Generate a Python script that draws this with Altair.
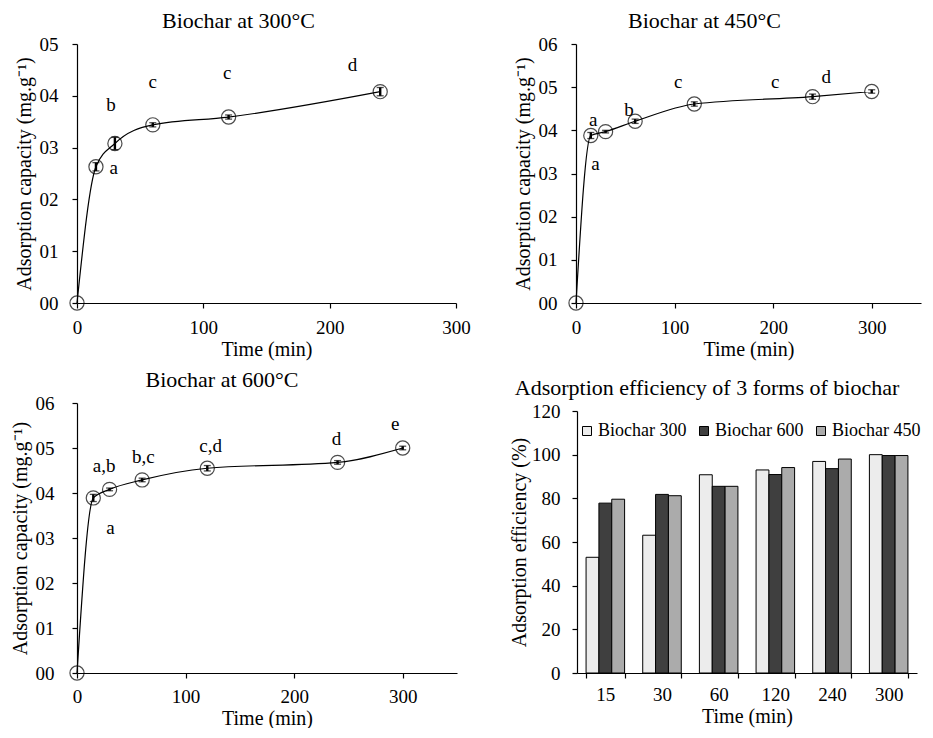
import altair as alt
import pandas as pd

FONT = "Liberation Serif"

# ---------------- data ----------------
# Biochar at 300 °C
t300 = [0, 15, 30, 60, 120, 240]
q300 = [0.0, 0.263, 0.308, 0.344, 0.359, 0.408]
e300 = [0.0, 0.008, 0.012, 0.004, 0.004, 0.008]
lab300_text = ["a", "b", "c", "c", "d"]
lab300_x = [29, 27, 60, 119, 218]
lab300_y = [0.26, 0.383, 0.427, 0.444, 0.46]

# Biochar at 450 °C
t450 = [0, 15, 30, 60, 120, 240, 300]
q450 = [0.0, 0.388, 0.397, 0.421, 0.461, 0.478, 0.490]
e450 = [0.0, 0.007, 0.003, 0.005, 0.005, 0.006, 0.004]
lab450_text = ["a", "a", "b", "c", "c", "d"]
lab450_x = [17.4, 19.8, 53.7, 103.7, 202, 254]
lab450_y = [0.424, 0.321, 0.448, 0.511, 0.511, 0.523]

# Biochar at 600 °C
t600 = [0, 15, 30, 60, 120, 240, 300]
q600 = [0.0, 0.389, 0.408, 0.429, 0.455, 0.468, 0.500]
e600 = [0.0, 0.008, 0.003, 0.004, 0.006, 0.004, 0.004]
lab600_text = ["a,b", "a", "b,c", "c,d", "d", "e"]
lab600_x = [25, 30.8, 61, 123, 239, 293]
lab600_y = [0.461, 0.322, 0.479, 0.505, 0.521, 0.553]

# Adsorption efficiency (%)
bar_times = ["15", "30", "60", "120", "240", "300"]
series_order = ["Biochar 300", "Biochar 600", "Biochar 450"]
eff300 = [53.0, 63.1, 90.8, 93.0, 96.9, 100.0]
eff600 = [77.8, 81.8, 85.5, 90.9, 93.6, 99.6]
eff450 = [79.6, 81.2, 85.5, 94.1, 98.0, 99.6]
bar_fill = ["#ececec", "#3f3f3f", "#ababab"]

AX = dict(labelFont=FONT, titleFont=FONT, labelFontSize=19, titleFontSize=20,
          titleFontWeight="normal", labelColor="black", titleColor="black",
          labelFlush=False)


def title(text, dx=0, offset=2):
    return alt.TitleParams(text, font=FONT, fontSize=22, fontWeight="normal",
                           color="black", offset=offset, dx=dx)


def kinetics(t, q, e, lx, ly, lt, ttl, dx, toff, xmax, ymax, w, h,
             ylabpad=14, xlabpad=10):
    df = pd.DataFrame({"t": t, "q": q,
                       "lo": [a - b for a, b in zip(q, e)],
                       "hi": [a + b for a, b in zip(q, e)]})
    ldf = pd.DataFrame({"t": lx, "q": ly, "txt": lt})
    xsc = alt.Scale(domain=[0, xmax], nice=False, zero=True)
    ysc = alt.Scale(domain=[0, ymax], nice=False, zero=True)
    yvals = [round(i * 0.1, 1) for i in range(int(round(ymax * 10)) + 1)]
    xax = alt.Axis(values=[0, 100, 200, 300], title="Time (min)",
                   labelPadding=xlabpad, titlePadding=2, **AX)
    yax = alt.Axis(values=yvals, title="Adsorption capacity (mg.g\u207b\u00b9)",
                   labelExpr="replace(format(datum.value, '.1f'), '.', '')",
                   labelPadding=ylabpad, titlePadding=5, **AX)
    base = alt.Chart(df)
    line = base.mark_line(interpolate="monotone", color="black", strokeWidth=1.2).encode(
        x=alt.X("t:Q", scale=xsc, axis=xax),
        y=alt.Y("q:Q", scale=ysc, axis=yax),
    )
    eb = base.transform_filter("datum.t > 0")
    rule = eb.mark_rule(color="black", strokeWidth=2.4).encode(
        x="t:Q", y="lo:Q", y2="hi:Q")
    cap_lo = eb.mark_tick(orient="horizontal", size=7, thickness=1.3, color="black").encode(
        x="t:Q", y="lo:Q")
    cap_hi = eb.mark_tick(orient="horizontal", size=7, thickness=1.3, color="black").encode(
        x="t:Q", y="hi:Q")
    pts = base.mark_point(shape="circle", size=200, filled=False, color="black",
                          strokeWidth=1.2).encode(x="t:Q", y="q:Q")
    txt = alt.Chart(ldf).mark_text(font=FONT, fontSize=19, color="black",
                                   align="center", baseline="middle").encode(
        x="t:Q", y="q:Q", text="txt:N")
    return alt.layer(line, rule, cap_lo, cap_hi, pts, txt).properties(
        width=w, height=h, title=title(ttl, dx=dx, offset=toff))


TOP_H = 259
tl = kinetics(t300, q300, e300, lab300_x, lab300_y, lab300_text,
              "Biochar at 300\u00b0C", -28, 2, 300, 0.5, 379, TOP_H)
tr = kinetics(t450, q450, e450, lab450_x, lab450_y, lab450_text,
              "Biochar at 450\u00b0C", -44, 2, 350, 0.6, 345, TOP_H)
BL_H = 270
bl = kinetics(t600, q600, e600, lab600_x, lab600_y, lab600_text,
              "Biochar at 600\u00b0C", -45, 2, 350, 0.6, 380, BL_H,
              ylabpad=18, xlabpad=9)

bdf = pd.DataFrame({
    "time": bar_times * 3,
    "series": [s for s in series_order for _ in bar_times],
    "eff": eff300 + eff600 + eff450,
})

br = alt.Chart(bdf).mark_bar(stroke="black", strokeWidth=1).encode(
    x=alt.X("time:N", sort=bar_times,
            scale=alt.Scale(paddingInner=0.32, paddingOuter=0.16),
            axis=alt.Axis(title="Time (min)", labelAngle=0, tickBand="extent",
                          labelPadding=7, titlePadding=2, **AX)),
    xOffset=alt.XOffset("series:N", sort=series_order,
                        scale=alt.Scale(paddingInner=0, paddingOuter=0)),
    y=alt.Y("eff:Q", scale=alt.Scale(domain=[0, 120], nice=False, range=[BL_H, 8]),
            axis=alt.Axis(values=list(range(0, 121, 20)),
                          title="Adsorption efficiency (%)",
                          labelPadding=12, titlePadding=2, **AX)),
    color=alt.Color("series:N", sort=series_order,
                    scale=alt.Scale(domain=series_order, range=bar_fill),
                    legend=alt.Legend(orient="none", legendX=1, legendY=19,
                                      direction="horizontal", columns=3, title=None,
                                      symbolType="square", symbolSize=81,
                                      symbolStrokeColor="black", symbolStrokeWidth=1,
                                      labelFont=FONT, labelFontSize=18,
                                      labelColor="black", labelOffset=2,
                                      columnPadding=8)),
).properties(width=340, height=BL_H,
             title=title("Adsorption efficiency of 3 forms of biochar", dx=-40))

chart = alt.vconcat(
    alt.hconcat(tl, tr, spacing=41),
    alt.hconcat(bl, br, spacing=52).resolve_legend(color="independent"),
    spacing=10,
).resolve_legend(color="independent").properties(
    padding={"left": 1, "top": 2, "right": 1, "bottom": 0}
).configure_view(stroke=None).configure_axis(
    domainColor="black", tickColor="black", labelColor="black", titleColor="black",
    labelFont=FONT, titleFont=FONT, labelFontSize=19, titleFontSize=20,
    titleFontWeight="normal", grid=False, tickSize=5, domainWidth=1.2, tickWidth=1.2,
    labelFlush=False,
).configure_legend(labelFont=FONT)

chart.save("out.html", embed_options={"renderer": "svg", "actions": False})
